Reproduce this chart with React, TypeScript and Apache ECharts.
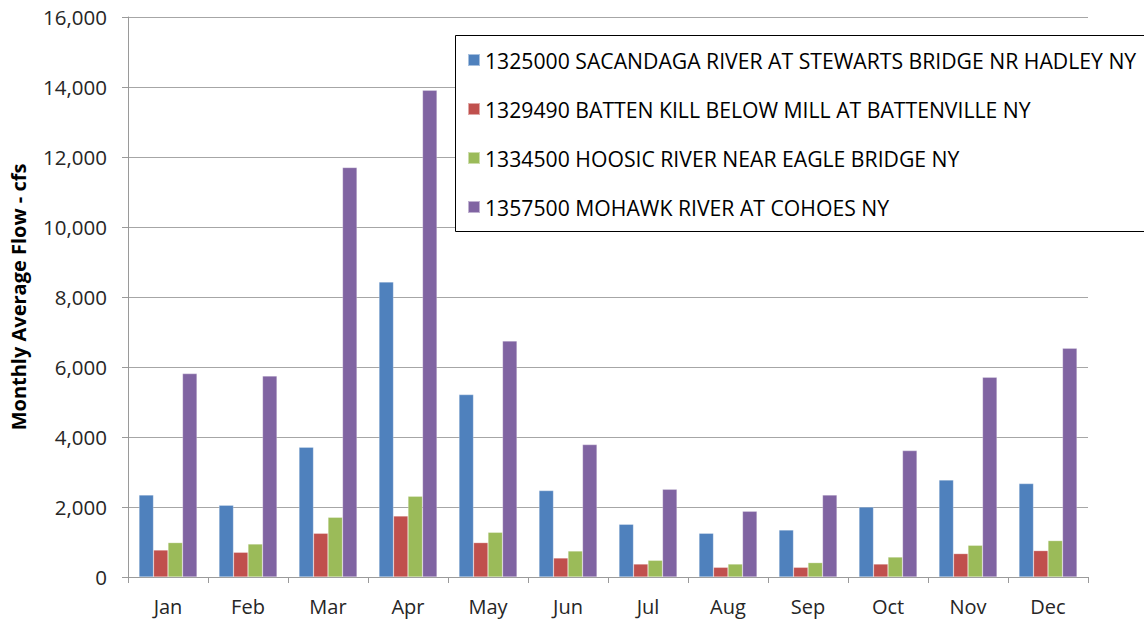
import React, { useEffect, useRef } from "react";
import * as echarts from "echarts";

const months = ["Jan", "Feb", "Mar", "Apr", "May", "Jun", "Jul", "Aug", "Sep", "Oct", "Nov", "Dec"];
const seriesNames = [
  "1325000 SACANDAGA RIVER AT STEWARTS BRIDGE NR HADLEY NY",
  "1329490 BATTEN KILL BELOW MILL AT BATTENVILLE NY",
  "1334500 HOOSIC RIVER NEAR EAGLE BRIDGE NY",
  "1357500 MOHAWK RIVER AT COHOES NY",
];
const sacandaga = [2343, 2049, 3706, 8429, 5211, 2469, 1506, 1249, 1343, 2000, 2771, 2669];
const battenKill = [771, 706, 1249, 1743, 983, 543, 371, 277, 277, 371, 669, 754];
const hoosic = [983, 943, 1706, 2306, 1277, 743, 477, 371, 411, 571, 906, 1040];
const mohawk = [5811, 5743, 11700, 13906, 6743, 3783, 2506, 1877, 2343, 3611, 5706, 6534];
const colors = ["#4F81BD", "#C0504D", "#9BBB59", "#8064A2"];
const yTicks = { min: 0, max: 16000, interval: 2000 };

const FONT = "'Open Sans', 'Noto Sans', sans-serif";

export default function App() {
  const ref = useRef<HTMLDivElement>(null);
  useEffect(() => {
    if (!ref.current) return;
    const chart = echarts.init(ref.current, null, { renderer: "svg" });
    const data = [sacandaga, battenKill, hoosic, mohawk];
    chart.setOption({
      animation: false,
      backgroundColor: "#ffffff",
      grid: { left: 128, right: 56, top: 17, bottom: 45 },
      xAxis: {
        type: "category",
        data: months,
        axisLine: { lineStyle: { color: "#9a9a9a", width: 1 } },
        axisTick: { show: true, length: 6, lineStyle: { color: "#9a9a9a" } },
        axisLabel: { fontFamily: FONT, fontSize: 20, color: "#262626", margin: 19 },
      },
      yAxis: {
        type: "value",
        min: yTicks.min,
        max: yTicks.max,
        interval: yTicks.interval,
        name: "Monthly Average Flow - cfs",
        nameLocation: "middle",
        nameRotate: 90,
        nameGap: 100,
        nameTextStyle: { fontFamily: FONT, fontSize: 20, fontWeight: "bold", color: "#000" },
        axisLine: { show: true, lineStyle: { color: "#9a9a9a", width: 1 } },
        axisTick: { show: true, length: 6, lineStyle: { color: "#9a9a9a" } },
        splitLine: { show: true, lineStyle: { color: "#a6a6a6", width: 1 } },
        axisLabel: {
          fontFamily: FONT,
          fontSize: 20.5,
          color: "#262626",
          margin: 21,
          formatter: (v: number) => v.toLocaleString("en-US"),
        },
      },
      legend: {
        orient: "vertical",
        left: 467,
        top: 48,
        padding: 0,
        itemWidth: 12,
        itemHeight: 12,
        itemGap: 25,
        itemTextGap: 7,
        z: 10,
        icon: "rect",
        textStyle: { fontFamily: FONT, fontSize: 21.2, color: "#000", lineHeight: 24 },
        data: seriesNames,
      },
      graphic: [
        {
          type: "rect",
          z: 5,
          shape: { x: 455.5, y: 35.5, width: 720, height: 196 },
          style: { fill: "#ffffff", stroke: "#000000", lineWidth: 1 },
        },
      ],
      series: seriesNames.map((name, i) => ({
        name,
        type: "bar",
        data: data[i],
        barWidth: 14.5,
        barGap: "0%",
        itemStyle: { color: colors[i], borderColor: "rgba(255,255,255,0.5)", borderWidth: 0.5 },
      })),
    });
    return () => chart.dispose();
  }, []);
  return <div ref={ref} style={{ width: 1144, height: 622, position: "absolute", left: 0, top: 0 }} />;
}
